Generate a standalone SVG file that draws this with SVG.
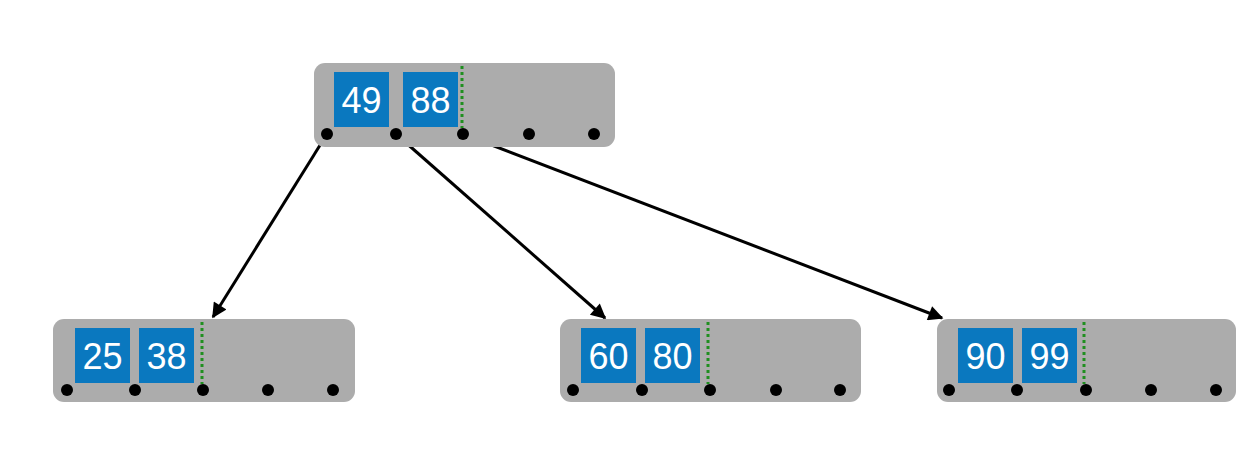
<svg xmlns="http://www.w3.org/2000/svg" width="1258" height="452" viewBox="0 0 1258 452">
<defs>
<style>
.node{fill:#acacac;}
.key{fill:#0a78bf;}
.kt{fill:#fff;font-family:"Liberation Sans",Arial,sans-serif;font-size:36px;text-anchor:middle;}
.sep{stroke:#1f8f1f;stroke-width:3;stroke-dasharray:3 3;}
.ptr{fill:#000;}
.edge{stroke:#000;stroke-width:3;fill:none;marker-end:url(#ah);}
</style>
<marker id="ah" viewBox="0 0 10 10" refX="9" refY="5" markerWidth="6" markerHeight="5" markerUnits="strokeWidth" orient="auto">
<path d="M0,0 L10,5 L0,10 z" fill="#000"/>
</marker>
</defs>
<rect width="1258" height="452" fill="#fff"/>
<g id="connectors">
<line class="edge" x1="327" y1="134" x2="213" y2="317"/>
<line class="edge" x1="396" y1="134" x2="605" y2="318"/>
<line class="edge" x1="463" y1="134" x2="942" y2="318"/>
</g>
<g id="root">
<rect class="node" x="314" y="63" width="301" height="84" rx="11"/>
<rect class="key" x="334" y="72" width="55" height="55"/>
<text class="kt" x="361.5" y="113">49</text>
<rect class="key" x="403" y="72" width="55" height="55"/>
<text class="kt" x="430.5" y="113">88</text>
<line class="sep" x1="462" y1="66" x2="462" y2="128"/>
<circle class="ptr" cx="327" cy="134" r="6"/>
<circle class="ptr" cx="396" cy="134" r="6"/>
<circle class="ptr" cx="463" cy="134" r="6"/>
<circle class="ptr" cx="529" cy="134" r="6"/>
<circle class="ptr" cx="594" cy="134" r="6"/>
</g>
<g id="leaf1">
<rect class="node" x="53" y="319" width="302" height="83" rx="11"/>
<rect class="key" x="75" y="328" width="55" height="55"/>
<text class="kt" x="102.5" y="369">25</text>
<rect class="key" x="139" y="328" width="55" height="55"/>
<text class="kt" x="166.5" y="369">38</text>
<line class="sep" x1="202" y1="322" x2="202" y2="384"/>
<circle class="ptr" cx="67" cy="390" r="6"/>
<circle class="ptr" cx="135" cy="390" r="6"/>
<circle class="ptr" cx="203" cy="390" r="6"/>
<circle class="ptr" cx="268" cy="390" r="6"/>
<circle class="ptr" cx="333" cy="390" r="6"/>
</g>
<g id="leaf2">
<rect class="node" x="560" y="319" width="301" height="83" rx="11"/>
<rect class="key" x="581" y="328" width="55" height="55"/>
<text class="kt" x="608.5" y="369">60</text>
<rect class="key" x="645" y="328" width="55" height="55"/>
<text class="kt" x="672.5" y="369">80</text>
<line class="sep" x1="708" y1="322" x2="708" y2="384"/>
<circle class="ptr" cx="573" cy="390" r="6"/>
<circle class="ptr" cx="642" cy="390" r="6"/>
<circle class="ptr" cx="710" cy="390" r="6"/>
<circle class="ptr" cx="776" cy="390" r="6"/>
<circle class="ptr" cx="840" cy="390" r="6"/>
</g>
<g id="leaf3">
<rect class="node" x="937" y="319" width="299" height="83" rx="11"/>
<rect class="key" x="958" y="328" width="55" height="55"/>
<text class="kt" x="985.5" y="369">90</text>
<rect class="key" x="1022" y="328" width="55" height="55"/>
<text class="kt" x="1049.5" y="369">99</text>
<line class="sep" x1="1084" y1="322" x2="1084" y2="384"/>
<circle class="ptr" cx="949" cy="390" r="6"/>
<circle class="ptr" cx="1017" cy="390" r="6"/>
<circle class="ptr" cx="1086" cy="390" r="6"/>
<circle class="ptr" cx="1151" cy="390" r="6"/>
<circle class="ptr" cx="1216" cy="390" r="6"/>
</g>
</svg>
